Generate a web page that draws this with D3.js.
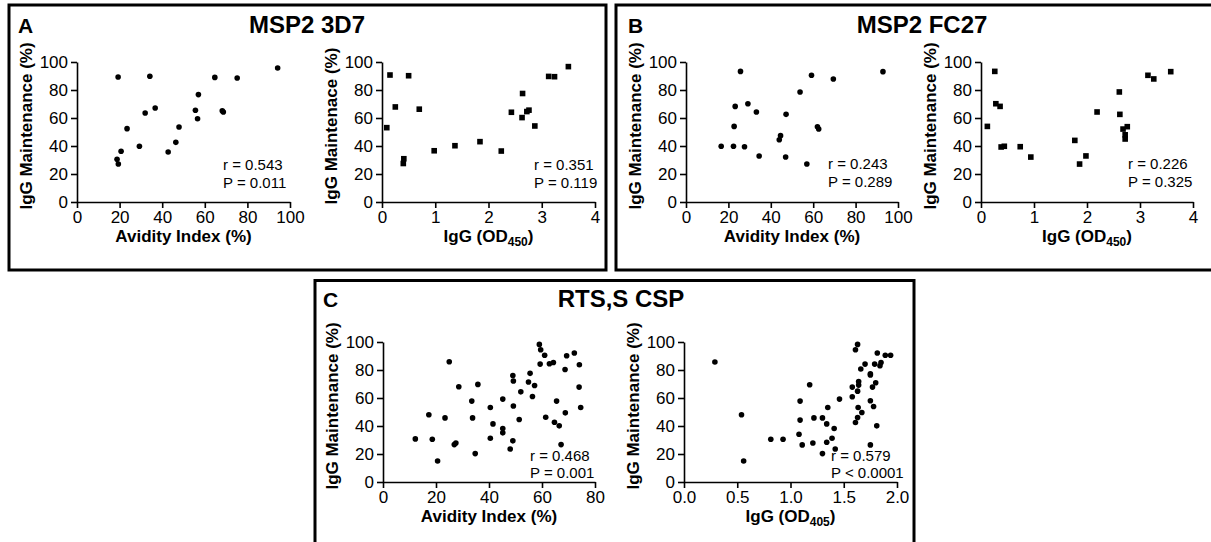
<html lang="en">
<head>
<title>IgG maintenance vs avidity and IgG</title>
<script src="https://d3js.org/d3.v7.min.js"></script>
<style>
  body { margin: 0; background: #fff; font-family: "Liberation Sans", Arial, sans-serif; }
  .tick text { font-size: 17px; font-family: "Liberation Sans", Arial, sans-serif; fill: #000; }
  .domain, .tick line { stroke: #000; stroke-width: 1.6px; }
  .axis-title { font-size: 17px; font-weight: bold; }
  .stat { font-size: 15px; }
</style>
</head>
<body>
<div class="main"></div>
<script>
// ---- data ----
// MSP2 3D7
var a3d7Avidity     = [19.3, 34.2, 94.2, 64.7, 75.2, 57.0, 55.6, 56.6, 68.2, 68.7, 36.7, 32.0, 23.5, 47.9, 46.4, 42.8, 29.3, 20.7, 18.8, 19.4]
var a3d7AvidityMnt  = [89.3, 89.8, 95.7, 89.0, 88.6, 76.7, 65.5, 59.5, 65.2, 64.3, 67.1, 63.6, 52.4, 53.6, 42.6, 35.7, 39.8, 36.2, 30.5, 27.1]
var a3d7IgG         = [0.09, 0.15, 0.25, 0.50, 0.70, 0.40, 0.41, 0.98, 1.37, 1.84, 2.24, 2.43, 2.64, 2.63, 2.72, 2.76, 2.87, 3.13, 3.24, 3.50]
var a3d7IgGMnt      = [53.1, 90.7, 67.9, 90.2, 66.3, 27.5, 30.9, 36.6, 40.2, 43.1, 36.4, 64.1, 77.5, 60.3, 64.6, 65.6, 54.3, 89.7, 89.5, 96.7]
var a3d7Stats       = ["r = 0.543", "P = 0.011", "r = 0.351", "P = 0.119"]

// MSP2 FC27
var fc27Avidity     = [16.6, 22.4, 27.6, 22.7, 23.2, 25.7, 29.2, 33.2, 34.5, 44.0, 44.6, 47.0, 47.2, 53.8, 57.0, 59.2, 62.0, 62.6, 69.5, 92.9]
var fc27AvidityMnt  = [39.8, 39.8, 39.5, 54.0, 68.3, 93.3, 70.2, 64.3, 32.9, 44.5, 47.4, 32.1, 62.6, 78.6, 27.1, 90.5, 53.8, 52.1, 87.9, 93.1]
var fc27IgG         = [0.12, 0.26, 0.28, 0.36, 0.38, 0.44, 0.74, 0.94, 1.77, 1.86, 1.98, 2.19, 2.61, 2.62, 2.68, 2.76, 2.72, 2.72, 3.15, 3.26, 3.58]
var fc27IgGMnt      = [54.0, 93.3, 70.2, 68.3, 39.3, 39.8, 39.5, 32.1, 44.0, 27.1, 32.9, 64.3, 78.6, 62.6, 52.1, 53.8, 48.0, 45.0, 90.5, 87.9, 93.1]
var fc27Stats       = ["r = 0.243", "P = 0.289", "r = 0.226", "P = 0.325"]

// RTS,S CSP
var cspAvidity      = [12.2, 17.3, 18.6, 20.6, 23.4, 25.0, 26.9, 27.5, 28.6, 33.5, 33.8, 34.8, 35.8, 40.5, 40.5, 41.5, 45.2, 45.2, 45.2, 49.2,
                       49.0, 49.2, 49.0, 48.0, 51.4, 52.0, 54.9, 55.5, 56.4, 57.2, 59.0, 59.5, 59.3, 61.0, 61.4, 62.8, 64.3, 64.7, 66.5, 65.5,
                       67.2, 68.7, 68.8, 69.3, 72.2, 74.1, 74.0, 74.6]
var cspAvidityMnt   = [30.8, 48.0, 30.5, 15.0, 45.8, 85.9, 26.7, 27.9, 68.0, 57.8, 45.8, 20.3, 69.7, 53.2, 31.3, 41.5, 59.2, 38.2, 35.1, 72.1,
                       76.1, 54.3, 29.4, 23.6, 44.6, 64.4, 71.4, 77.6, 61.1, 68.9, 98.3, 94.5, 84.2, 90.5, 46.3, 84.5, 85.4, 42.7, 40.1, 57.8,
                       26.7, 80.4, 49.4, 90.2, 92.1, 83.8, 67.8, 53.2]
var cspIgG          = [0.29, 0.54, 0.56, 0.815, 0.93, 1.08, 1.09, 1.09, 1.11, 1.18, 1.21, 1.22, 1.30, 1.30, 1.34, 1.35, 1.34, 1.39, 1.41, 1.42,
                       1.46, 1.58, 1.58, 1.61, 1.63, 1.61, 1.63, 1.63, 1.64, 1.64, 1.635, 1.67, 1.66, 1.70, 1.75, 1.75, 1.75, 1.75, 1.77, 1.78,
                       1.79, 1.80, 1.81, 1.815, 1.84, 1.85, 1.89, 1.94]
var cspIgGMnt       = [85.7, 48.0, 15.0, 30.5, 30.5, 34.1, 44.2, 57.8, 26.5, 69.5, 27.9, 45.8, 45.8, 20.3, 41.5, 53.2, 28.4, 31.3, 38.2, 23.6,
                       59.2, 67.8, 60.9, 94.5, 98.3, 42.5, 64.9, 46.1, 71.8, 69.2, 53.2, 49.6, 80.7, 84.2, 76.4, 77.3, 58.0, 26.5, 67.8, 53.9,
                       84.2, 70.9, 40.1, 92.1, 83.0, 85.4, 90.5, 90.5]
var cspStats        = ["r = 0.468", "P = 0.001", "r = 0.579", "P < 0.0001"]

var yTicks = [0, 20, 40, 60, 80, 100]
var avidityTicks = [0, 20, 40, 60, 80, 100]
var avidityTicksC = [0, 20, 40, 60, 80]
var igg450Ticks = [0, 1, 2, 3, 4]
var igg405Ticks = [0, 0.5, 1.0, 1.5, 2.0]

// ---- layout ----
var width = 1211, height = 542
var svg = d3.select(".main").append("svg")
  .attr("width", width).attr("height", height)

var panels = [
  {letter: "A", title: "MSP2 3D7",  box: [9, 5, 597, 265],     lx: 18,  ly: 33,    tx: 307, ty: 33},
  {letter: "B", title: "MSP2 FC27", box: [616, 5, 600, 265],   lx: 628, ly: 33,    tx: 922, ty: 33},
  {letter: "C", title: "RTS,S CSP", box: [315, 280.5, 599, 270], lx: 323, ly: 306.5, tx: 621, ty: 306.5}
]

var plots = [
  {x0: 77,  x1: 290, top: 62,  bot: 202, xMax: 100, xTicks: avidityTicks, xs: a3d7Avidity, ys: a3d7AvidityMnt, sq: false,
   xLab: "Avidity Index (%)", yLab: "IgG Maintenance (%)", stats: a3d7Stats.slice(0, 2), sx: 223, sy: [169.5, 187.5]},
  {x0: 382, x1: 595, top: 62,  bot: 202, xMax: 4, xTicks: igg450Ticks, xs: a3d7IgG, ys: a3d7IgGMnt, sq: true,
   xLab: "IgG (OD", sub: "450", yLab: "IgG Maintenace (%)", stats: a3d7Stats.slice(2), sx: 534, sy: [169.5, 187.5]},
  {x0: 686, x1: 898, top: 62,  bot: 202, xMax: 100, xTicks: avidityTicks, xs: fc27Avidity, ys: fc27AvidityMnt, sq: false,
   xLab: "Avidity Index (%)", yLab: "IgG Maintenance (%)", stats: fc27Stats.slice(0, 2), sx: 828, sy: [169, 187]},
  {x0: 981, x1: 1193, top: 62, bot: 202, xMax: 4, xTicks: igg450Ticks, xs: fc27IgG, ys: fc27IgGMnt, sq: true,
   xLab: "IgG (OD", sub: "450", yLab: "IgG Maintenance (%)", stats: fc27Stats.slice(2), sx: 1128, sy: [169, 187]},
  {x0: 383, x1: 595, top: 342, bot: 482, xMax: 80, xTicks: avidityTicksC, xs: cspAvidity, ys: cspAvidityMnt, sq: false,
   xLab: "Avidity Index (%)", yLab: "IgG Maintenance (%)", stats: cspStats.slice(0, 2), sx: 530, sy: [461, 478]},
  {x0: 684, x1: 897, top: 342, bot: 482, xMax: 2, xTicks: igg405Ticks, xs: cspIgG, ys: cspIgGMnt, sq: false, fmt: ".1f",
   xLab: "IgG (OD", sub: "405", yLab: "IgG Maintenance (%)", stats: cspStats.slice(2), sx: 831, sy: [461, 478]}
]

panels.forEach(function(p) {
  svg.append("rect")
    .attr("x", p.box[0]).attr("y", p.box[1])
    .attr("width", p.box[2]).attr("height", p.box[3])
    .attr("fill", "none").attr("stroke", "#000").attr("stroke-width", 3)
  svg.append("text").attr("x", p.lx).attr("y", p.ly)
    .style("font-size", "21px").style("font-weight", "bold").text(p.letter)
  svg.append("text").attr("x", p.tx).attr("y", p.ty)
    .attr("text-anchor", "middle")
    .style("font-size", "24px").style("font-weight", "bold").text(p.title)
})

plots.forEach(function(d) {
  var x = d3.scaleLinear().domain([0, d.xMax]).range([d.x0, d.x1])
  var y = d3.scaleLinear().domain([0, 100]).range([d.bot, d.top])

  svg.append("g").attr("transform", "translate(0," + d.bot + ")")
    .call(d3.axisBottom(x).tickValues(d.xTicks).tickSize(6).tickSizeOuter(0).tickPadding(3)
      .tickFormat(d.fmt ? d3.format(d.fmt) : d3.format("d")))
  svg.append("g").attr("transform", "translate(" + d.x0 + ",0)")
    .call(d3.axisLeft(y).tickValues(yTicks).tickSize(6).tickSizeOuter(0).tickPadding(3))

  var pts = d.xs.map(function(v, i) { return [v, d.ys[i]] })
  if (d.sq) {
    svg.append("g").selectAll("rect").data(pts).enter().append("rect")
      .attr("x", function(p) { return x(p[0]) - 2.8 })
      .attr("y", function(p) { return y(p[1]) - 2.8 })
      .attr("width", 5.6).attr("height", 5.6).attr("fill", "#000")
  } else {
    svg.append("g").selectAll("circle").data(pts).enter().append("circle")
      .attr("cx", function(p) { return x(p[0]) })
      .attr("cy", function(p) { return y(p[1]) })
      .attr("r", 2.8).attr("fill", "#000")
  }

  // axis titles
  var xt = svg.append("text").attr("class", "axis-title")
    .attr("x", (d.x0 + d.x1) / 2).attr("y", d.bot + 40)
    .attr("text-anchor", "middle").text(d.xLab)
  if (d.sub) {
    xt.append("tspan").attr("dy", 4).style("font-size", "12px").text(d.sub)
    xt.append("tspan").attr("dy", -4).text(")")
  }
  svg.append("text").attr("class", "axis-title")
    .attr("transform", "translate(" + (d.x0 - 45) + "," + ((d.top + d.bot) / 2 - 6) + ") rotate(-90)")
    .attr("text-anchor", "middle").text(d.yLab)

  svg.selectAll(null).data(d.stats).enter().append("text")
    .attr("class", "stat")
    .attr("x", d.sx).attr("y", function(s, i) { return d.sy[i] })
    .text(function(s) { return s })
})
</script>
</body>
</html>
